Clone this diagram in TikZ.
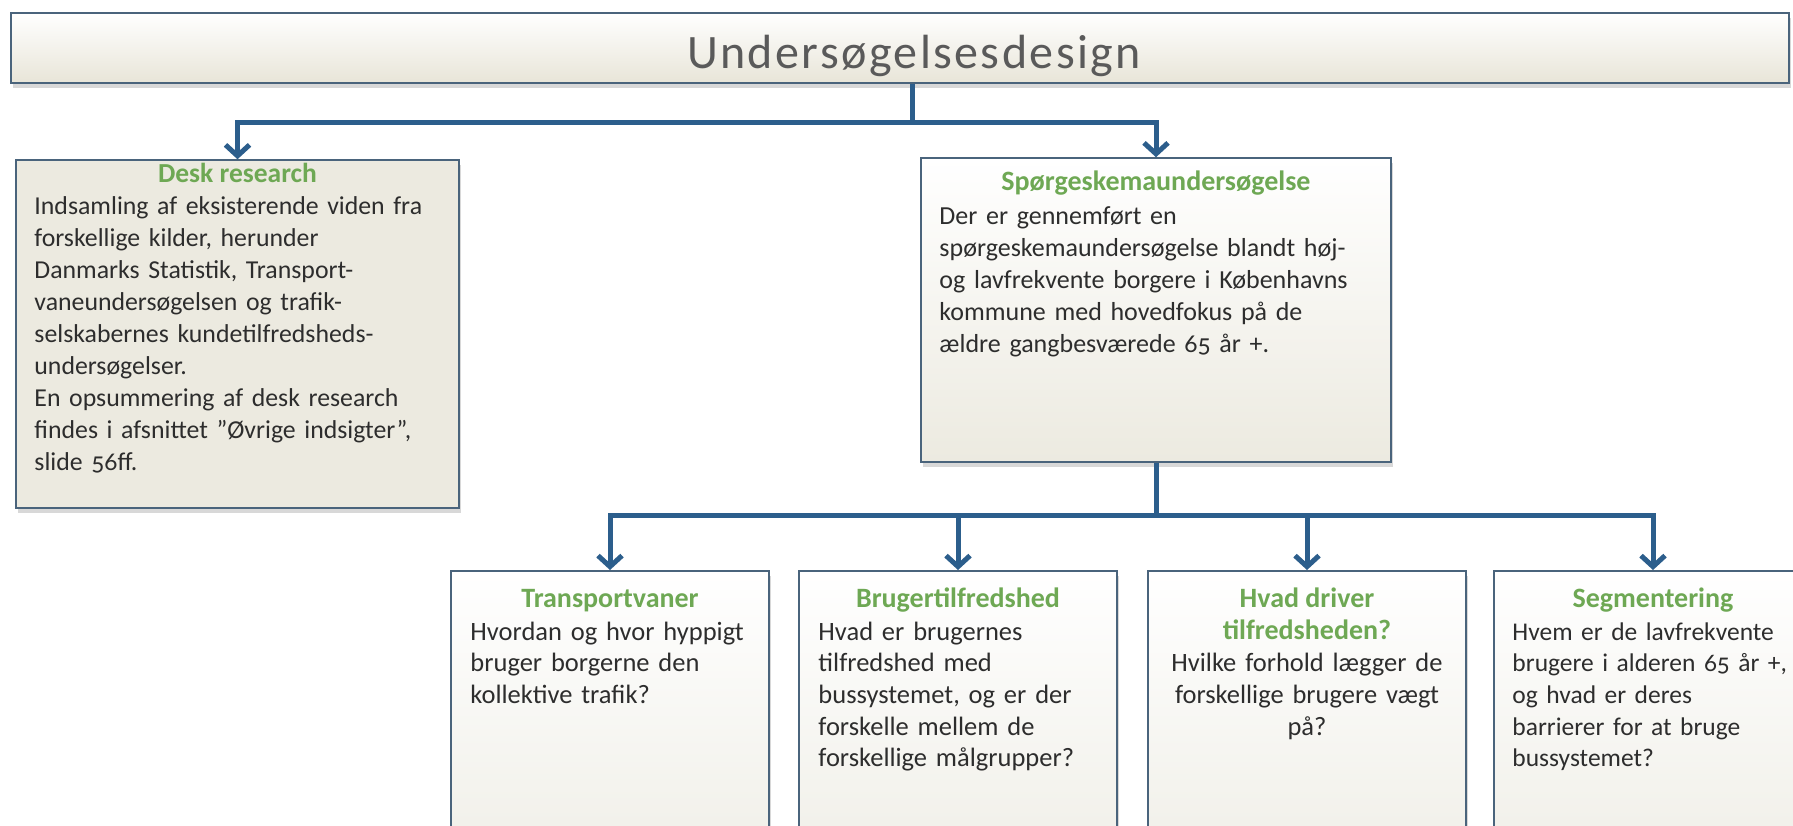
\documentclass[tikz,border=0pt]{standalone}
\usepackage{fontspec}
\setmainfont{Carlito}[Numbers=OldStyle]
\usepackage{xcolor}
\usetikzlibrary{arrows.meta,shadows,calc}

\definecolor{arrowblue}{RGB}{44,94,140}
\definecolor{edgeblue}{RGB}{74,100,124}
\definecolor{headgreen}{RGB}{110,168,84}
\definecolor{deskbeige}{RGB}{236,234,224}
\definecolor{leafbeige}{RGB}{240,239,232}
\definecolor{titlebeige}{RGB}{232,229,216}
\definecolor{bodygrey}{RGB}{45,45,45}
\definecolor{titlegrey}{RGB}{90,90,90}

\begin{document}
\begin{tikzpicture}[x=1pt,y=1pt,
  box/.style={draw=edgeblue,line width=1.5pt,inner sep=0pt},
  shadowed/.style={drop shadow={shadow xshift=2pt,shadow yshift=-5pt,opacity=0.3}},
  leaf/.style={box,shadowed,top color=white,bottom color=leafbeige,
    minimum width=318,minimum height=290,anchor=north},
  head/.style={text=headgreen,inner sep=0pt,anchor=base,font=\bfseries},
  bodytext/.style={text=bodygrey,inner sep=0pt,align=left,anchor=north west,
    text width=330},
  flow/.style={draw=arrowblue,line width=5pt},
  flowarrow/.style={flow,-{Straight Barb[length=11pt,width=24pt]}}]
\useasboundingbox (0,0) rectangle (1793,-825);
\fill[white] (0,0) rectangle (1793,-825);

% title bar
\node[box,shadowed,top color=white,bottom color=titlebeige,
  minimum width=1778,minimum height=70] (title) at (900,-48) {};
\node[text=titlegrey,anchor=base,inner sep=0pt,
  font=\fontsize{48}{52}\selectfont\addfontfeatures{LetterSpace=5}]
  (titletext) at (914,-68) {Undersøgelsesdesign};

% first level
\node[box,shadowed,fill=deskbeige,minimum width=443,minimum height=348] (desk)
  at (237.5,-334) {};
\node[box,shadowed,top color=white,bottom color=deskbeige,
  minimum width=470,minimum height=304] (survey) at (1156,-310) {};

\node[head,font=\bfseries\fontsize{27.5}{32}\selectfont] (deskhead)
  at ($(desk.north)+(0,-23)$) {Desk research};
\node[bodytext,text width=420,font=\fontsize{25.8}{32}\selectfont] (desktext)
  at ($(desk.north west)+(19,-32.6)$)
  {\strut Indsamling af eksisterende viden fra\\
   forskellige kilder, herunder\\
   Danmarks Statistik, Transport-\\
   vaneundersøgelsen og trafik-\\
   selskabernes kundetilfredsheds-\\
   undersøgelser.\\
   En opsummering af desk research\\
   findes i afsnittet ”Øvrige indsigter”,\\
   slide 56ff.};

\node[head,font=\bfseries\fontsize{28}{32}\selectfont] (surveyhead)
  at ($(survey.north)+(0,-33)$) {Spørgeskemaundersøgelse};
\node[bodytext,text width=445,font=\fontsize{26}{32}\selectfont] (surveytext)
  at ($(survey.north west)+(19,-44.6)$)
  {\strut Der er gennemført en\\
   spørgeskemaundersøgelse blandt høj-\\
   og lavfrekvente borgere i Københavns\\
   kommune med hovedfokus på de\\
   ældre gangbesværede 65 år +.};

% second level
\node[leaf] (habits) at (610,-570) {};
\node[leaf] (satisf) at (958,-570) {};
\node[leaf] (drivers) at (1307,-570) {};
\node[leaf] (segment) at (1653,-570) {};

\tikzset{leafhead/.style={head,font=\bfseries\fontsize{28}{32}\selectfont},
  leafbody/.style={bodytext,font=\fontsize{26.5}{31.7}\selectfont}}

\node[leafhead] (habitshead) at ($(habits.north)+(0,-37)$) {Transportvaner};
\node[leafbody] (habitstext) at ($(habits.north west)+(20,-47.6)$)
  {\strut Hvordan og hvor hyppigt\\
   bruger borgerne den\\
   kollektive trafik?};

\node[leafhead] (satisfhead) at ($(satisf.north)+(0,-37)$) {Brugertilfredshed};
\node[leafbody] (satisftext) at ($(satisf.north west)+(20,-47.6)$)
  {\strut Hvad er brugernes\\
   tilfredshed med\\
   bussystemet, og er der\\
   forskelle mellem de\\
   forskellige målgrupper?};

\node[leafhead] (drivershead) at ($(drivers.north)+(0,-37)$) {Hvad driver};
\node[leafhead] (drivershead2) at ($(drivers.north)+(0,-69)$) {tilfredsheden?};
\node[leafbody,text width=300,align=center,anchor=north] (driverstext)
  at ($(drivers.north)+(0,-79.3)$)
  {\strut Hvilke forhold lægger de\\
   forskellige brugere vægt\\
   på?};

\node[leafhead] (segmenthead) at ($(segment.north)+(0,-37)$) {Segmentering};
\node[leafbody,font=\fontsize{25.5}{31.7}\selectfont] (segmenttext)
  at ($(segment.north west)+(19,-47.6)$)
  {\strut Hvem er de lavfrekvente\\
   brugere i alderen 65 år +,\\
   og hvad er deres\\
   barrierer for at bruge\\
   bussystemet?};

% connectors
\coordinate (topjoin) at (912,-122);
\coordinate (lowjoin) at (survey.south |- 0,-515);
\draw[flow] (title.south -| topjoin) -- (topjoin);
\draw[flowarrow] (topjoin) -| (desk.north);
\draw[flowarrow] (topjoin) -| (survey.north);
\draw[flow] (survey.south) -- (lowjoin);
\draw[flowarrow] (lowjoin) -| (habits.north);
\draw[flowarrow] (lowjoin) -| (satisf.north);
\draw[flowarrow] (lowjoin) -| (drivers.north);
\draw[flowarrow] (lowjoin) -| (segment.north);
\end{tikzpicture}
\end{document}
